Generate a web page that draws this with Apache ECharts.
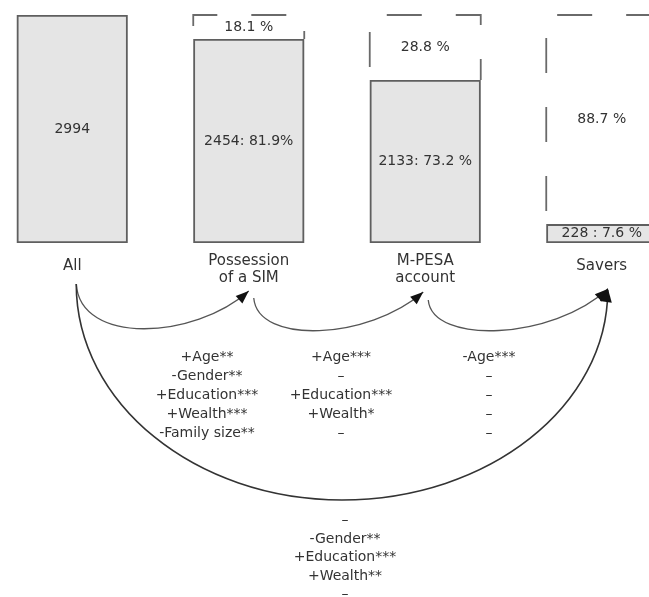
<!DOCTYPE html>
<html><head><meta charset="utf-8">
<script src="https://cdn.jsdelivr.net/npm/echarts@6/dist/echarts.min.js"></script>
<style>html,body{margin:0;padding:0;background:#fff;overflow:hidden;width:649px;height:597px;position:relative}
#c{position:absolute;left:-16px;top:0;width:706px;height:597px}</style>
</head><body><div id="c"></div>
<script>
const categories = ['All', 'Possession\nof a SIM', 'M-PESA\naccount', 'Savers'];
const counts = [2994, 2454, 2133, 228];
const barLabels = ['2994', '2454: 81.9%', '2133: 73.2 %', '228 : 7.6 %'];
const gapLabels = ['', '18.1 %', '28.8 %', '88.7 %'];
// bar heights as drawn in the picture, % of the full "All" column
const drawnHeight = [100, 89.5, 71.5, 8.3];
const gapHeight = drawnHeight.map(v => +(100 - v).toFixed(1));
const stepEffects = [
  ['+Age**', '-Gender**', '+Education***', '+Wealth***', '-Family size**'],
  ['+Age***', '–', '+Education***', '+Wealth*', '–'],
  ['-Age***', '–', '–', '–', '–']
];
const overallEffects = ['–', '-Gender**', '+Education***', '+Wealth**', '–'];

const OFF = 16; // chart canvas starts 16px left of the page
const FONT = 'DejaVu Sans';
const TXT = '#333';
const BAR_W = 111;
const chart = echarts.init(document.getElementById('c'), null, {renderer: 'canvas'});
chart.setOption({
  animation: false,
  backgroundColor: '#fff',
  grid: {left: 0, right: 0, top: 15, bottom: 354, containLabel: false},
  xAxis: {
    type: 'category', data: categories,
    axisLine: {show: false}, axisTick: {show: false}, splitLine: {show: false},
    axisLabel: {fontSize: 15, lineHeight: 17, margin: 10, color: TXT, fontFamily: FONT,
      formatter: v => v.indexOf('\n') < 0 ? '{one|' + v + '}' : v,
      rich: {one: {fontSize: 15, lineHeight: 26, color: TXT, fontFamily: FONT}}}
  },
  yAxis: {type: 'value', min: 0, max: 100, show: false},
  series: [
    {
      type: 'custom', silent: true, z: 2,
      data: gapHeight.map((v, i) => [i, drawnHeight[i], drawnHeight[i] + v]),
      renderItem: (params, api) => {
        const idx = params.dataIndex;
        if (!(gapHeight[idx] > 0)) return null;
        const lo = api.coord([api.value(0), api.value(1)]);
        const hi = api.coord([api.value(0), api.value(2)]);
        const x0 = lo[0] - BAR_W / 2, x1 = lo[0] + BAR_W / 2;
        return {type: 'group', children: [
          {type: 'polyline', shape: {points: [[x0, lo[1]], [x0, hi[1]], [x1, hi[1]], [x1, lo[1]]]},
            style: {stroke: '#6a6a6a', lineWidth: 1.8, lineDash: [35, 34], lineDashOffset: 56, fill: null}},
          {type: 'text', x: lo[0], y: (lo[1] + hi[1]) / 2,
            style: {text: gapLabels[idx], align: 'center', verticalAlign: 'middle',
              fontSize: 14, fontFamily: FONT, fill: TXT}}
        ]};
      }
    },
    {
      type: 'bar', barWidth: BAR_W, silent: true, z: 3,
      data: drawnHeight,
      itemStyle: {color: '#e5e5e5', borderColor: '#5f5f5f', borderWidth: 1.8},
      label: {show: true, position: 'inside', color: TXT, fontSize: 14, fontFamily: FONT,
        formatter: p => barLabels[p.dataIndex]}
    }
  ]
});

const cx = categories.map((c, i) => chart.convertToPixel({xAxisIndex: 0}, i));

function head(tip, from, len, half, color) {
  let dx = tip[0] - from[0], dy = tip[1] - from[1];
  const d = Math.hypot(dx, dy); dx /= d; dy /= d;
  const bx = tip[0] - dx * len, by = tip[1] - dy * len;
  return {type: 'polygon', silent: true, z: 20,
    shape: {points: [tip, [bx - dy * half, by + dx * half], [bx + dy * half, by - dx * half]]},
    style: {fill: color}};
}
function curve(p0, p1, p2, p3, color, w) {
  return {type: 'bezierCurve', silent: true, z: 10,
    shape: {x1: p0[0], y1: p0[1], cpx1: p1[0], cpy1: p1[1], cpx2: p2[0], cpy2: p2[1], x2: p3[0], y2: p3[1]},
    style: {stroke: color, lineWidth: w, fill: null}};
}

const g = [];
const small = [
  [[cx[0] + 4, 284], [cx[1], 291]],
  [[cx[1] + 5, 298], [cx[2] - 2, 292]],
  [[cx[2] + 3, 300], [cx[3] + 6, 289]]
];
small.forEach(([s, t]) => {
  const c1 = [s[0] + 4, 345], c2 = [t[0] - 55, 340];
  g.push(curve(s, c1, c2, t, '#555', 1.3));
  g.push(head(t, c2, 13, 5, '#111'));
});
// big arc (half ellipse made of two cubic curves)
const bs = [cx[0] + 4, 284], be = [cx[3] + 6, 290], by = 500;
const mx = (bs[0] + be[0]) / 2, k = 0.5523;
const ax = (be[0] - bs[0]) / 2;
g.push(curve(bs, [bs[0], bs[1] + k * (by - bs[1])], [mx - k * ax, by], [mx, by], '#333', 1.6));
g.push(curve([mx, by], [mx + k * ax, by], [be[0], be[1] + k * (by - be[1])], be, '#333', 1.6));
g.push(head([be[0], be[1] - 2], [be[0] - 3, be[1] + 20], 14, 6, '#111'));

const cols = [207, 341, 489];
stepEffects.forEach((lines, i) => {
  g.push({type: 'text', silent: true, x: cols[i] + OFF, y: 347.5,
    style: {text: lines.join('\n'), align: 'center', verticalAlign: 'top', lineHeight: 19,
      fontSize: 14, fontFamily: FONT, fill: TXT}});
});
g.push({type: 'text', silent: true, x: 345 + OFF, y: 511.5,
  style: {text: overallEffects.join('\n'), align: 'center', verticalAlign: 'top', lineHeight: 18.5,
    fontSize: 14, fontFamily: FONT, fill: TXT}});

chart.setOption({graphic: {elements: g}});
</script></body></html>
